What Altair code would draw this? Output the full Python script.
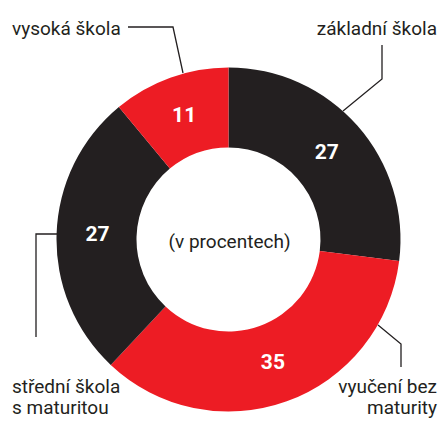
import altair as alt
import pandas as pd

categories = ["základní škola", "vyučení bez maturity", "střední škola s maturitou", "vysoká škola"]
values = [27, 35, 27, 11]
colors = ["#231F20", "#ED1C24", "#231F20", "#ED1C24"]

# annotation layout (pixels)
CX, CY = 228.5, 239.5
FONT = "Roboto"
label_lines = [
    ["vysoká škola"],
    ["základní škola"],
    ["střední škola", "s maturitou"],
    ["vyučení bez", "maturity"],
]
label_x = [12, 437, 12, 437]
label_y = [35, 35, 393, 393]
label_align = ["left", "right", "left", "right"]
leader_paths = [
    [(128, 27), (173, 27), (183, 73)],
    [(382, 45), (382, 79), (343, 111)],
    [(36, 337), (36, 234), (57, 234)],
    [(401, 367), (401, 344), (378, 325)],
]

df = pd.DataFrame({"cat": categories, "value": values, "idx": range(len(values))})

xs = alt.Scale(domain=[0, 441], range=[0, 441])
ys = alt.Scale(domain=[0, 423], range=[0, 423])

arc = alt.Chart(df).mark_arc(x=CX, y=CY, outerRadius=172, innerRadius=92, stroke=None).encode(
    theta=alt.Theta("value:Q", stack=True),
    order=alt.Order("idx:O"),
    color=alt.Color("cat:N", scale=alt.Scale(domain=categories, range=colors), legend=None),
)

nums = alt.Chart(df).mark_text(
    x=CX, y=CY, radius=131, font=FONT, fontWeight="bold", fontSize=21,
    color="white", baseline="middle", align="center",
).encode(
    theta=alt.Theta("value:Q", stack=True),
    order=alt.Order("idx:O"),
    text=alt.Text("value:Q"),
)

line_rows = []
for i, path in enumerate(leader_paths):
    for j, (px, py) in enumerate(path):
        line_rows.append({"g": i, "o": j, "px": px, "py": py})
lines = alt.Chart(pd.DataFrame(line_rows)).mark_line(color="#231F20", strokeWidth=1.3).encode(
    x=alt.X("px:Q", scale=xs, axis=None),
    y=alt.Y("py:Q", scale=ys, axis=None),
    detail="g:N",
    order="o:Q",
)

text_rows = []
for i, lines_ in enumerate(label_lines):
    text_rows.append({"t": lines_, "px": label_x[i], "py": label_y[i], "al": label_align[i]})
tdf = pd.DataFrame(text_rows)
texts = []
for al in ["left", "right"]:
    texts.append(
        alt.Chart(tdf[tdf["al"] == al]).mark_text(
            align=al, baseline="alphabetic", font=FONT, fontSize=19,
            color="#231F20", lineHeight=21,
        ).encode(
            x=alt.X("px:Q", scale=xs, axis=None),
            y=alt.Y("py:Q", scale=ys, axis=None),
            text="t",
        )
    )

center = alt.Chart(pd.DataFrame({"t": ["(v procentech)"]})).mark_text(
    x=CX + 1, y=CY + 2, font=FONT, fontSize=19, color="#231F20",
    baseline="middle", align="center",
).encode(text="t:N")

chart = alt.layer(arc, nums, lines, *texts, center).properties(
    width=441, height=423, padding=0, autosize=alt.AutoSizeParams(type="none"),
    background="white",
).configure_view(stroke=None)

chart.save("out.html", embed_options={"renderer": "svg", "actions": False})
